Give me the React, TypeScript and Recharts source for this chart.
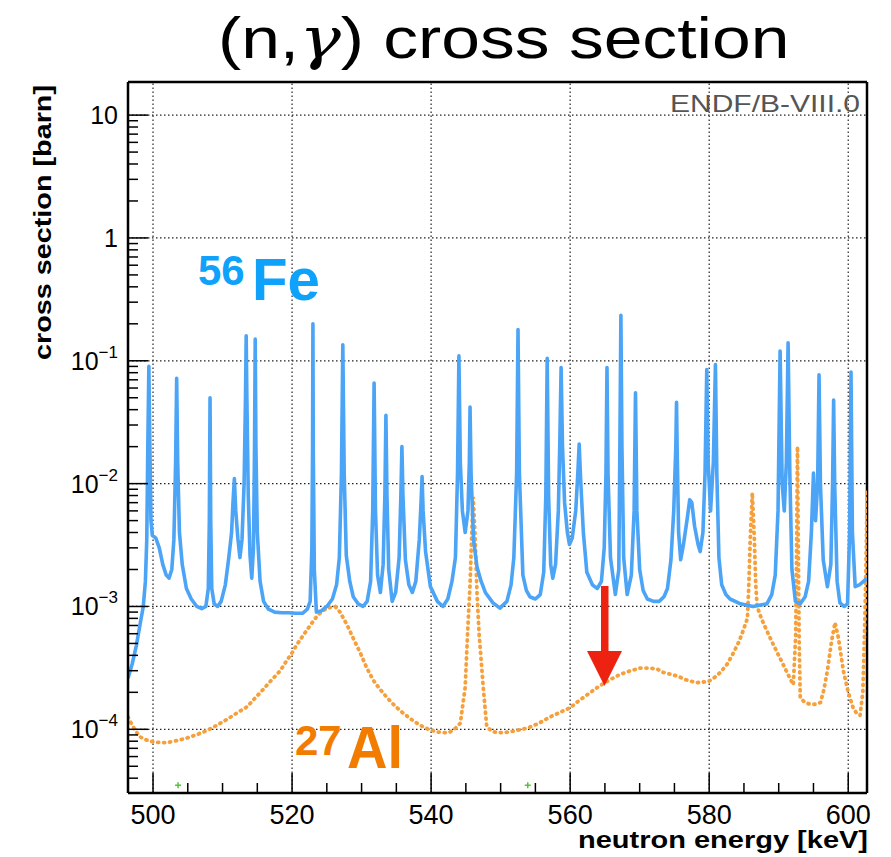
import React from 'react';
import { ComposedChart, Line, Scatter, XAxis, YAxis, ReferenceLine } from 'recharts';

// 56Fe(n,γ) — energy [keV] and cross section [barn]
const feEnergy = [
  496.4, 497.0, 497.6, 498.2, 498.6, 498.9, 499.1, 499.25, 499.4, 499.55, 499.7, 499.9,
  500.4, 500.9, 501.4, 501.9, 502.3, 502.7, 503.0, 503.25, 503.4, 503.55, 503.8, 504.2,
  504.8, 505.5, 506.3, 507.0, 507.6, 507.95, 508.1, 508.2, 508.3, 508.45, 508.8, 509.3,
  509.8, 510.4, 510.9, 511.3, 511.5, 511.7, 511.9, 512.2, 512.5, 512.8, 513.1, 513.3,
  513.4, 513.5, 513.7, 513.95, 514.2, 514.45, 514.6, 514.7, 514.8, 515.0, 515.4, 515.9,
  516.6, 517.5, 518.5, 519.5, 520.5, 521.5, 522.2, 522.6, 522.85, 522.95, 523.0, 523.05,
  523.2, 523.5, 524.2, 525.0, 525.8, 526.4, 526.8, 527.1, 527.3, 527.5, 527.8, 528.3,
  528.8, 529.5, 530.2, 530.8, 531.3, 531.6, 531.8, 532.0, 532.3, 532.7, 533.1, 533.35,
  533.5, 533.65, 533.9, 534.4, 534.9, 535.4, 535.65, 535.8, 535.95, 536.3, 536.8, 537.3,
  537.8, 538.3, 538.55, 538.7, 538.85, 539.2, 539.9, 540.9, 541.7, 542.4, 543.0, 543.5,
  543.8, 544.0, 544.2, 544.5, 544.9, 545.3, 545.5, 545.6, 545.75, 546.1, 546.6, 547.2,
  547.8, 548.9, 549.9, 550.9, 551.5, 551.9, 552.3, 552.5, 552.7, 553.2, 553.7, 554.2,
  555.0, 555.7, 556.2, 556.5, 556.7, 556.9, 557.2, 557.5, 557.9, 558.3, 558.5, 558.7,
  558.9, 559.2, 559.6, 559.9, 560.3, 560.8, 561.1, 561.3, 561.5, 561.9, 562.4, 563.2,
  563.9, 564.5, 564.9, 565.15, 565.3, 565.45, 565.8, 566.5, 567.0, 567.15, 567.3, 567.45,
  567.7, 568.2, 568.8, 569.2, 569.4, 569.6, 570.0, 570.5, 571.1, 572.0, 572.8, 573.5,
  574.0, 574.5, 574.9, 575.2, 575.3, 575.4, 575.6, 575.9, 576.3, 576.8, 577.2, 577.5,
  577.9, 578.4, 578.7, 579.1, 579.4, 579.65, 579.85, 580.2, 580.6, 580.9, 581.1, 581.4,
  581.8, 582.4, 583.0, 584.5, 586.3, 588.3, 589.0, 589.5, 589.9, 590.2, 590.5, 590.8,
  591.1, 591.35, 591.6, 591.9, 592.4, 593.1, 593.8, 594.3, 594.7, 595.0, 595.3, 595.6,
  595.8, 596.0, 596.4, 597.0, 597.5, 597.75, 597.9, 598.05, 598.4, 598.8, 599.4, 599.9,
  600.2, 600.4, 600.6, 601.0, 601.6, 602.2, 602.7,
];
const feSigma = [
  2.6e-4, 3.4e-4, 4.8e-4, 7.5e-4, 1.0e-3, 1.6e-3, 3.5e-3, 0.02, 0.09, 0.02, 5e-3, 3.8e-3,
  3.6e-3, 3.0e-3, 2.2e-3, 1.8e-3, 1.7e-3, 2.0e-3, 3.5e-3, 0.015, 0.072, 0.015, 4e-3, 2.2e-3,
  1.4e-3, 1.15e-3, 1.0e-3, 9.6e-4, 1.0e-3, 1.4e-3, 5e-3, 0.05, 5e-3, 1.4e-3, 1.05e-3, 1.0e-3,
  1.1e-3, 1.5e-3, 2.5e-3, 4e-3, 7e-3, 0.011, 6e-3, 3.6e-3, 2.5e-3, 3.5e-3, 0.01, 0.05,
  0.16, 0.05, 8e-3, 2.6e-3, 1.7e-3, 3e-3, 0.02, 0.15, 0.02, 4e-3, 1.6e-3, 1.1e-3,
  9.5e-4, 9.0e-4, 8.9e-4, 8.9e-4, 8.8e-4, 8.8e-4, 9.5e-4, 1.1e-3, 3e-3, 0.02, 0.2, 0.02,
  2e-3, 9e-4, 9.2e-4, 1.0e-3, 1.15e-3, 1.5e-3, 2.5e-3, 0.012, 0.135, 0.012, 2.6e-3, 1.6e-3,
  1.2e-3, 1.05e-3, 1.0e-3, 1.1e-3, 1.6e-3, 6e-3, 0.066, 6e-3, 1.8e-3, 1.3e-3, 2.2e-3, 8e-3,
  0.036, 8e-3, 2e-3, 1.1e-3, 1.3e-3, 2.5e-3, 8e-3, 0.02, 8e-3, 2.4e-3, 1.5e-3, 1.3e-3,
  1.6e-3, 3.5e-3, 7e-3, 0.0114, 6e-3, 2.8e-3, 1.45e-3, 1.1e-3, 1.0e-3, 1.15e-3, 1.6e-3, 2.5e-3,
  0.012, 0.11, 0.015, 6e-3, 4e-3, 6e-3, 0.015, 0.042, 0.012, 3.5e-3, 2.1e-3, 1.6e-3,
  1.3e-3, 1.07e-3, 9.7e-4, 1.1e-3, 1.5e-3, 2.5e-3, 0.012, 0.18, 0.012, 1.8e-3, 1.35e-3, 1.2e-3,
  1.15e-3, 1.25e-3, 1.9e-3, 8e-3, 0.105, 8e-3, 2.2e-3, 1.7e-3, 2.2e-3, 6e-3, 0.02, 0.088,
  0.02, 7e-3, 4e-3, 3.2e-3, 3.6e-3, 6e-3, 0.012, 0.021, 0.011, 4e-3, 1.9e-3, 1.5e-3,
  1.4e-3, 1.6e-3, 3e-3, 0.012, 0.088, 0.012, 2.5e-3, 1.25e-3, 2e-3, 0.02, 0.235, 0.02,
  2.5e-3, 1.25e-3, 1.8e-3, 6e-3, 0.055, 6e-3, 2e-3, 1.35e-3, 1.15e-3, 1.1e-3, 1.1e-3, 1.2e-3,
  1.4e-3, 2.4e-3, 6e-3, 0.02, 0.046, 0.018, 4e-3, 2.4e-3, 3.2e-3, 5e-3, 7.4e-3, 7e-3,
  4.5e-3, 3.2e-3, 2.8e-3, 4e-3, 0.012, 0.085, 0.015, 6e-3, 0.015, 0.093, 0.012, 2.5e-3,
  1.5e-3, 1.25e-3, 1.15e-3, 1.05e-3, 1.0e-3, 1.05e-3, 1.25e-3, 1.8e-3, 6e-3, 0.12, 0.01, 6e-3,
  0.015, 0.14, 0.012, 2e-3, 1.1e-3, 1.05e-3, 1.2e-3, 1.6e-3, 4e-3, 0.0122, 5e-3, 0.01,
  0.077, 0.01, 2.4e-3, 1.45e-3, 2.2e-3, 0.01, 0.048, 0.01, 1.6e-3, 1.07e-3, 1.0e-3, 1.05e-3,
  4e-3, 0.081, 4e-3, 1.45e-3, 1.5e-3, 1.6e-3, 1.7e-3,
];

// 27Al(n,γ)
const alEnergy = [
  496.4, 497.0, 497.6, 498.1, 499.0, 500.0, 501.0, 502.0, 503.5, 504.9, 506.4, 507.8,
  509.2, 510.6, 512.0, 513.5, 514.7, 515.8, 517.0, 518.3, 519.2, 520.0, 520.7, 521.4,
  522.2, 522.9, 523.7, 524.5, 525.4, 526.2, 526.9, 527.9, 528.8, 529.8, 530.7, 531.7,
  532.7, 533.7, 534.8, 536.0, 537.2, 538.4, 539.6, 540.9, 542.0, 542.7, 543.5, 544.2,
  544.9, 545.3, 545.6, 545.85, 546.05, 546.3, 546.6, 546.9, 547.5, 548.0, 548.8, 549.5,
  550.5, 552.0, 553.8, 555.5, 557.1, 558.6, 560.0, 561.2, 562.4, 563.7, 565.0, 566.1,
  567.2, 568.7, 570.1, 571.3, 572.5, 573.4, 574.5, 575.5, 576.9, 578.3, 579.9, 580.8,
  581.6, 582.6, 583.5, 584.3, 584.9, 585.5, 585.7, 585.9, 586.2, 586.5, 586.7, 586.9,
  587.5, 588.1, 589.0, 589.8, 590.5, 591.2, 592.1, 592.45, 592.6, 592.7, 592.8, 592.95,
  593.1, 593.8, 594.5, 595.3, 596.0, 596.5, 597.0, 597.6, 598.1, 598.6, 599.3, 600.0,
  600.7, 601.2, 601.7, 602.1, 602.4, 602.6, 602.7,
];
const alSigma = [
  1.26e-4, 1.08e-4, 9.5e-5, 8.7e-5, 8.2e-5, 7.9e-5, 7.8e-5, 7.8e-5, 8.1e-5, 8.5e-5, 9.1e-5, 9.8e-5,
  1.08e-4, 1.2e-4, 1.35e-4, 1.52e-4, 1.8e-4, 2.1e-4, 2.5e-4, 3.0e-4, 3.6e-4, 4.2e-4, 4.9e-4, 5.6e-4,
  6.5e-4, 7.4e-4, 8.5e-4, 9.3e-4, 9.8e-4, 1.0e-3, 9.0e-4, 7.1e-4, 5.5e-4, 4.2e-4, 3.2e-4, 2.5e-4,
  2.1e-4, 1.8e-4, 1.55e-4, 1.35e-4, 1.2e-4, 1.08e-4, 1.0e-4, 9.5e-5, 9.4e-5, 9.5e-5, 1.02e-4, 1.12e-4,
  2.2e-4, 7e-4, 1.5e-3, 4e-3, 7.8e-3, 4e-3, 1.3e-3, 6e-4, 2.2e-4, 1.05e-4, 9.6e-5, 9.4e-5,
  9.4e-5, 9.7e-5, 1.02e-4, 1.12e-4, 1.26e-4, 1.38e-4, 1.5e-4, 1.7e-4, 1.9e-4, 2.15e-4, 2.4e-4, 2.6e-4,
  2.8e-4, 3.0e-4, 3.15e-4, 3.15e-4, 3.1e-4, 2.9e-4, 2.8e-4, 2.7e-4, 2.5e-4, 2.4e-4, 2.45e-4, 2.65e-4,
  2.9e-4, 3.4e-4, 4.2e-4, 5.2e-4, 6.4e-4, 8.0e-4, 1.5e-3, 3.5e-3, 8.4e-3, 3.5e-3, 1.5e-3, 1.0e-3,
  8.0e-4, 6.7e-4, 5.2e-4, 4.2e-4, 3.5e-4, 2.9e-4, 2.3e-4, 6e-4, 4e-3, 0.02, 4e-3, 5e-4,
  1.8e-4, 1.65e-4, 1.6e-4, 1.6e-4, 1.65e-4, 2.1e-4, 3.0e-4, 5.2e-4, 7.4e-4, 5.5e-4, 3.0e-4, 2.0e-4,
  1.5e-4, 1.35e-4, 1.3e-4, 2e-4, 8e-4, 3e-3, 8.5e-3,
];

// the two small green markers near the floor
const markEnergy = [503.6, 553.9];
const markSigma = [3.5e-5, 3.5e-5];

const xMajor = [500, 520, 540, 560, 580, 600];
const xTicks = [
  500, 505, 510, 515, 520, 525, 530, 535, 540, 545, 550,
  555, 560, 565, 570, 575, 580, 585, 590, 595, 600,
];
const yMajor = [1e-4, 1e-3, 1e-2, 1e-1, 1, 10];
const yDecades = [1e-5, 1e-4, 1e-3, 1e-2, 1e-1, 1, 10];
const yMantissa = [1, 2, 3, 4, 5, 6, 7, 8, 9];

const X_DOMAIN: [number, number] = [496.4, 602.7];
const Y_DOMAIN: [number, number] = [3.03e-5, 18.6];

const yTicks = yDecades
  .flatMap((d) => yMantissa.map((m) => m * d))
  .filter((v) => v >= Y_DOMAIN[0] && v <= Y_DOMAIN[1]);

const feData = feEnergy.map((e, i) => ({ e, s: feSigma[i] }));
const alData = alEnergy.map((e, i) => ({ e, s: alSigma[i] }));
const markData = markEnergy.map((e, i) => ({ e, s: markSigma[i] }));

const FONT = '"Liberation Sans", Arial, Helvetica, sans-serif';
const W = 883;
const H = 849;

const isMajorY = (v: number) => {
  const l = Math.log10(v);
  return Math.abs(l - Math.round(l)) < 1e-6;
};

function XTick(props: any) {
  const { x, y, payload } = props;
  const v = payload.value;
  const major = xMajor.includes(v);
  return (
    <g>
      <line x1={x} x2={x} y1={y} y2={y - (major ? 20 : 10)} stroke="#000" strokeWidth={1.5} />
      {major && (
        <text x={x} y={y + 31} textAnchor="middle" fontSize={27} fontFamily={FONT} fill="#000">
          {v}
        </text>
      )}
    </g>
  );
}

function YTick(props: any) {
  const { x, y, payload } = props;
  const v = payload.value;
  const major = isMajorY(v);
  const exp = Math.round(Math.log10(v));
  return (
    <g>
      <line x1={x} x2={x + (major ? 20 : 10)} y1={y} y2={y} stroke="#000" strokeWidth={1.5} />
      {major && exp >= 0 && (
        <text x={x - 10} y={y + 9} textAnchor="end" fontSize={25} fontFamily={FONT} fill="#000">
          {exp === 0 ? '1' : '10'}
        </text>
      )}
      {major && exp < 0 && (
        <text x={x - 10} y={y + 9} textAnchor="end" fontFamily={FONT} fill="#000">
          <tspan fontSize={25}>10</tspan>
          <tspan fontSize={17} dy={-12}>{'\u2212' + Math.abs(exp)}</tspan>
        </text>
      )}
    </g>
  );
}

function Cross(props: any) {
  const { cx, cy } = props;
  return <path d={`M${cx - 3},${cy}h6M${cx},${cy - 3}v6`} stroke="#55c43a" strokeWidth={1.5} />;
}

export default function App() {
  return (
    <div style={{ position: 'relative', width: W, height: H, background: '#fff' }}>
      <ComposedChart width={W} height={H} margin={{ top: 74, right: 24, bottom: 14, left: 20 }}>
        <XAxis
          type="number"
          dataKey="e"
          domain={X_DOMAIN}
          allowDataOverflow
          ticks={xTicks}
          interval={0}
          tick={(p: any) => <XTick {...p} />}
          tickLine={false}
          tickSize={0}
          tickMargin={0}
          height={50}
          axisLine={{ stroke: '#000', strokeWidth: 2.5 }}
        />
        <YAxis
          type="number"
          dataKey="s"
          scale="log"
          domain={Y_DOMAIN}
          allowDataOverflow
          ticks={yTicks}
          interval={0}
          tick={(p: any) => <YTick {...p} />}
          tickLine={false}
          tickSize={0}
          tickMargin={0}
          width={100}
          axisLine={{ stroke: '#000', strokeWidth: 2.5 }}
        />

        {xMajor.map((v) => (
          <ReferenceLine key={'gx' + v} x={v} stroke="#222" strokeWidth={1.2} strokeDasharray="1.5 2.5" />
        ))}
        {yMajor.map((v) => (
          <ReferenceLine key={'gy' + v} y={v} stroke="#222" strokeWidth={1.2} strokeDasharray="1.5 2.5" />
        ))}
        <ReferenceLine y={Y_DOMAIN[1]} stroke="#000" strokeWidth={2.5} ifOverflow="visible" />
        <ReferenceLine x={X_DOMAIN[1]} stroke="#000" strokeWidth={2.5} ifOverflow="visible" />

        <Line
          data={alData}
          dataKey="s"
          type="linear"
          stroke="#f5a03c"
          strokeWidth={3.8}
          strokeDasharray="1 5"
          strokeLinecap="round"
          dot={false}
          isAnimationActive={false}
        />
        <Line
          data={feData}
          dataKey="s"
          type="linear"
          stroke="#4ca4f6"
          strokeWidth={3.6}
          strokeLinejoin="round"
          dot={false}
          isAnimationActive={false}
        />
        <Scatter data={markData} dataKey="s" shape={(p: any) => <Cross {...p} />} isAnimationActive={false} />
      </ComposedChart>

      <svg width={W} height={H} style={{ position: 'absolute', left: 0, top: 0, pointerEvents: 'none' }}>
        <g transform="translate(210,50) scale(1.2,1)">
          <text x={0} y={0} fontSize={58} fontFamily={FONT} fill="#000">
            (n,<tspan fontFamily='"DejaVu Serif", serif' fontStyle="italic">γ</tspan>) cross section
          </text>
        </g>
        <text
          transform="translate(43,214.5) rotate(-90)"
          textAnchor="middle"
          fontSize={24}
          fontWeight="bold"
          fontFamily={FONT}
          fill="#000"
          textLength={275}
          lengthAdjust="spacingAndGlyphs"
        >
          cross section [barn]
        </text>
        <text
          x={860}
          y={840}
          textAnchor="end"
          fontSize={24}
          fontWeight="bold"
          fontFamily={FONT}
          fill="#000"
          textLength={290}
          lengthAdjust="spacingAndGlyphs"
        >
          neutron energy [keV]
        </text>
        <text
          x={852}
          y={104}
          textAnchor="end"
          fontSize={24}
          fontFamily={FONT}
          fill="#555"
          textLength={190}
          lengthAdjust="spacingAndGlyphs"
        >
          ENDF/B-VIII.0
        </text>

        <text x={190} y={277} fontSize={42} fontWeight="bold" fontFamily={FONT} fill="#0ea2fb">56</text>
        <text x={244} y={292} fontSize={60} fontWeight="bold" fontFamily={FONT} fill="#0ea2fb" textLength={68} lengthAdjust="spacingAndGlyphs">Fe</text>
        <text x={287} y={747} fontSize={42} fontWeight="bold" fontFamily={FONT} fill="#f27c00">27</text>
        <text x={339} y={760} fontSize={60} fontWeight="bold" fontFamily={FONT} fill="#f27c00" textLength={56} lengthAdjust="spacingAndGlyphs">Al</text>

        <rect x={593} y={578} width={7.5} height={66} fill="#ee2211" />
        <polygon points="579,643 614,643 596.5,678" fill="#ee2211" />
      </svg>
    </div>
  );
}
